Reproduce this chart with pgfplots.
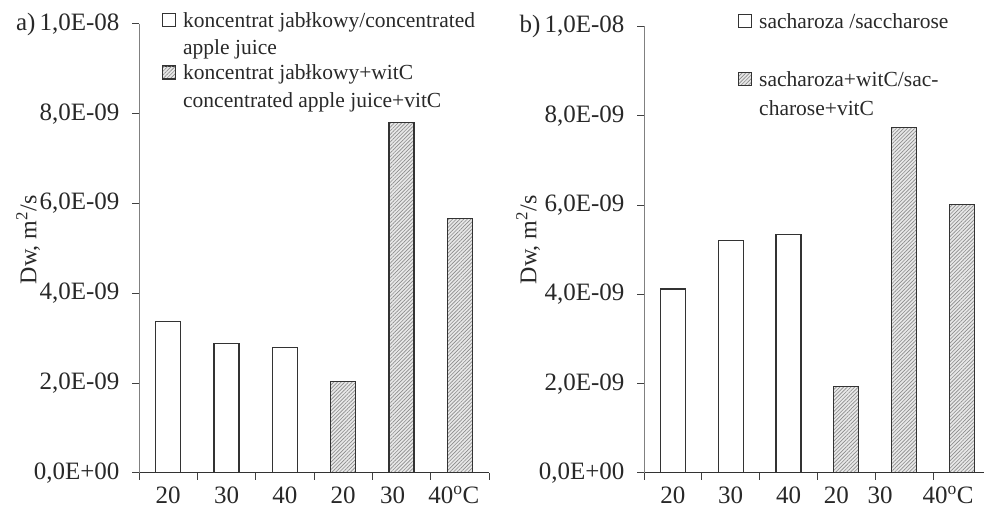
\documentclass[border=0pt]{standalone}
\usepackage{fontspec}
\setmainfont{Liberation Serif}
\usepackage{pgfplots}
\pgfplotsset{compat=1.18}
\usetikzlibrary{patterns.meta}
\definecolor{txt}{RGB}{40,40,40}
\pgfplotsset{
  panel/.style={
    scale only axis, anchor=south west,
    xmin=0.5, ymin=0, ymax=10,
    axis x line*=bottom, axis y line*=left,
    x axis line style={draw=black!80, line width=1pt, -},
    y axis line style={draw=black!50, line width=1pt, -},
    tick align=outside, major tick length=7pt,
    tick style={line width=1pt, draw=black!75},
    xtick={0.5,1.5,...,6.5}, xticklabels={{},{},{},{},{},{},{}},
    extra x ticks={1,2,3,4,5,6},
    extra x tick style={major tick length=0pt, tick label style={yshift=-10pt}},
    ytick={0,2,4,6,8,10},
    tick label style={font=\rmfamily\fontsize{25}{29}\selectfont, text=txt},
    yticklabel style={xshift=-9pt},
    ylabel={Dw, m\textsuperscript{2}/s},
    legend image code/.code={\draw[#1,line width=1pt] (0pt,1pt) rectangle (13pt,14pt);},
  },
  wbar/.style={ybar, bar width=25pt, draw=black!80, line width=1.2pt, fill=white},
  hbar/.style={ybar, bar width=25pt, draw=black!80, line width=1.2pt,
     preaction={fill=gray!18}, pattern color=black!45,
     pattern={Lines[angle=45,distance=2.6pt,line width=0.65pt]}},
}
\newcommand{\lt}[1]{\begin{tabular}[t]{@{}l@{}}#1\end{tabular}}
\newcommand{\sh}[2]{\hspace*{#1}\raisebox{-3pt}{#2}}
\begin{document}
\begin{tikzpicture}
\useasboundingbox (0,0) rectangle (984pt,510pt);
\begin{axis}[panel,
  width=350pt, height=449pt, at={(139pt,37pt)}, xmax=6.5,
  extra x tick labels={20,30,40,\sh{0pt}{20},\sh{-18pt}{30},\sh{-12pt}{40\textsuperscript{o}C}},
  yticklabels={{0,0E+00},{2,0E-09},{4,0E-09},{6,0E-09},{8,0E-09},{a)\,1,0E-08}},
  every axis y label/.style={at={(axis description cs:-0.317,0.519)}, rotate=90, anchor=center, font=\rmfamily\fontsize{24}{28}\selectfont, text=txt},
  legend style={at={(axis description cs:0.0657,1.0345)}, anchor=north west, draw=none, fill=none, inner sep=0pt,
     row sep=32pt, column sep=7pt, font=\rmfamily\fontsize{21.5}{27}\selectfont, text=txt,
     cells={anchor=base west}, nodes={inner sep=0pt}},
]
\addplot[wbar] coordinates {(1,3.38) (2,2.88) (3,2.79)};
\addlegendentry{\lt{koncentrat jabłkowy/concentrated\\apple juice}}
\addplot[hbar] coordinates {(4,2.03) (5,7.80) (6,5.67)};
\addlegendentry{\lt{koncentrat jabłkowy+witC\\concentrated apple juice+vitC}}
\end{axis}
\begin{axis}[panel,
  width=340pt, height=446.5pt, at={(644pt,37pt)}, xmax=6.38,
  extra x tick labels={20,30,40,\sh{-20pt}{20},\sh{-48pt}{30},\sh{-28pt}{40\textsuperscript{o}C}},
  yticklabels={{0,0E+00},{2,0E-09},{4,0E-09},{6,0E-09},{8,0E-09},{b)\,1,0E-08}},
  every axis y label/.style={at={(axis description cs:-0.341,0.522)}, rotate=90, anchor=center, font=\rmfamily\fontsize{24}{28}\selectfont, text=txt},
  legend style={at={(axis description cs:0.2765,1.0417)}, anchor=north west, draw=none, fill=none, inner sep=0pt,
     row sep=36pt, column sep=7pt, font=\rmfamily\fontsize{21.5}{29}\selectfont, text=txt,
     cells={anchor=base west}, nodes={inner sep=0pt}},
]
\addplot[wbar] coordinates {(1,4.12) (2,5.20) (3,5.34)};
\addlegendentry{\lt{sacharoza /saccharose}}
\addplot[hbar] coordinates {(4,1.94) (5,7.73) (6,6.02)};
\addlegendentry{\lt{sacharoza+witC/sac-\\charose+vitC}}
\end{axis}
\end{tikzpicture}
\end{document}
